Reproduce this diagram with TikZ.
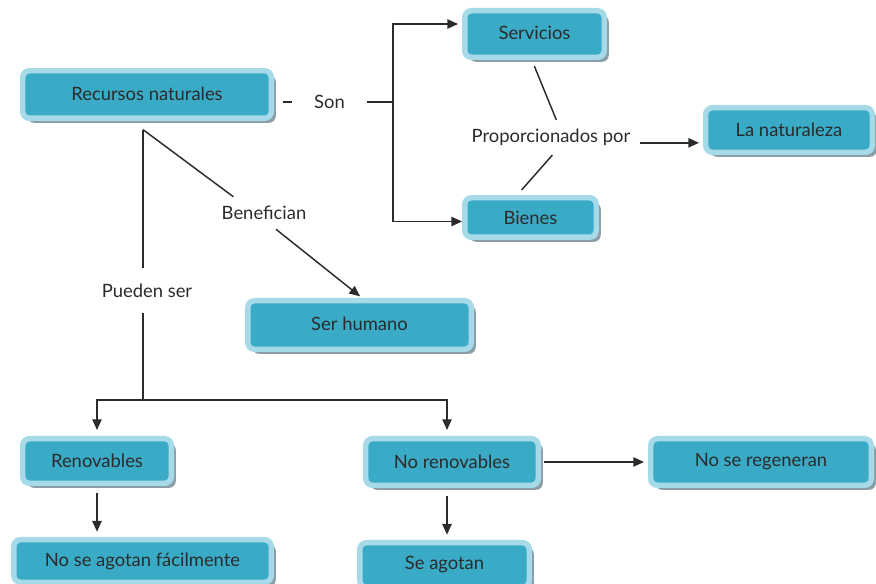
\documentclass[tikz,border=0pt]{standalone}
\usepackage{fontspec}
\setmainfont{Lato}
\usepackage{xcolor}
\usepackage{tikz}
\usetikzlibrary{arrows.meta,positioning,shadows}
\tikzset{>={Triangle[length=8pt,width=7pt]}}

\definecolor{boxin}{HTML}{3AABC7}
\definecolor{boxout}{HTML}{A6DAE8}
\definecolor{boxshade}{HTML}{8C9FA6}
\definecolor{inkgray}{HTML}{2B2B2B}

\tikzset{
  concept/.style={draw=boxout, fill=boxin, line width=4.1pt, rounded corners=5pt,
    text=inkgray, font=\fontsize{13.8}{15}\selectfont, inner sep=0pt,
    drop shadow={shadow xshift=3.4pt, shadow yshift=-3.4pt, fill=boxshade, opacity=1}},
  linktext/.style={text=inkgray, font=\fontsize{13.8}{15}\selectfont, inner sep=0pt},
  link/.style={draw=inkgray, line width=1.1pt}
}

\begin{document}
\begin{tikzpicture}[x=0.75pt, y=-0.75pt]
    \useasboundingbox (0,0) rectangle (876,584);

    % concepts
    \node[concept, minimum width=186.4pt, minimum height=35.6pt] (recursos) at (147,94.5) {\raisebox{1.5pt}{Recursos naturales}};
    \node[concept, minimum width=104.6pt, minimum height=34.9pt] (servicios) at (534.5,34) {\raisebox{1.5pt}{Servicios}};
    \node[concept, minimum width=98.6pt, minimum height=29.6pt] (bienes) at (530.5,217.5) {Bienes};
    \node[concept, minimum width=124.9pt, minimum height=33.4pt] (naturaleza) at (789,130) {\raisebox{1pt}{La naturaleza}};
    \node[concept, minimum width=167.6pt, minimum height=36.4pt] (humano) at (359.5,325) {\raisebox{1.5pt}{Ser humano}};
    \node[concept, minimum width=111.4pt, minimum height=33.4pt] (renovables) at (97,461) {Renovables};
    \node[concept, minimum width=129.4pt, minimum height=34.9pt] (norenov) at (452,462) {\raisebox{1pt}{No renovables}};
    \node[concept, minimum width=165.4pt, minimum height=34.9pt] (regeneran) at (761,462) {\raisebox{1pt}{No se regeneran}};
    \node[concept, minimum width=193.1pt, minimum height=31.9pt] (noagotan) at (142.5,561) {\raisebox{1pt}{No se agotan fácilmente}};
    \node[concept, minimum width=127.1pt, minimum height=33.4pt] (seagotan) at (444.5,565) {Se agotan};

    % linking words
    \node[linktext, minimum width=56pt] (son) at (329.5,102) {Son};
    \node[linktext, minimum height=26pt, inner xsep=7pt] (prop) at (551,137.5) {Proporcionados por};
    \node[linktext, minimum height=24pt] (benef) at (264,213) {Benefician};
    \node[linktext, minimum height=34pt] (pueden) at (147,290.5) {Pueden ser};

    \coordinate (split) at (393,102);
    \coordinate (root) at ([xshift=-3pt, yshift=-6.5pt]recursos.south);
    \coordinate (fork) at (143,400);

    % Son
    \draw[link, shorten <=7pt] (recursos.east |- son.west) -- (son.west);
    \draw[link] (son.east) -- (split);
    \draw[link, ->, shorten >=3pt] (split) |- ([yshift=7.5pt]servicios.west);
    \draw[link, ->] (split) |- ([yshift=-3pt]bienes.west);

    % Proporcionados por
    \draw[link, shorten <=5pt] ([xshift=-2pt]servicios.south) -- ([xshift=4pt]prop.north);
    \draw[link, shorten >=5pt] ([xshift=1pt]prop.south) -- ([xshift=-10pt]bienes.north);
    \draw[link, ->, shorten >=3pt] ([yshift=-4pt]prop.east) -- ([yshift=-4pt]prop.east -| naturaleza.west);

    % Benefician
    \draw[link] (root) -- ([xshift=-23pt]benef.north);
    \draw[link, ->, shorten >=2pt] ([xshift=9pt]benef.south) -- ([xshift=2pt]humano.north);

    % Pueden ser
    \draw[link] (root) -- (root |- pueden.north);
    \draw[link] (root |- pueden.south) -- (fork);
    \draw[link, ->, shorten >=4.5pt] (fork) -| (renovables.north);
    \draw[link, ->, shorten >=4.5pt] (fork) -| ([xshift=-3.75pt]norenov.north);

    % below
    \draw[link, ->, shorten <=5pt, shorten >=4pt] (renovables.south) -- (renovables.south |- noagotan.north);
    \draw[link, ->, shorten <=6pt, shorten >=4pt] ([xshift=-3.75pt]norenov.south) -- ([xshift=-3.75pt]norenov.south |- seagotan.north);
    \draw[link, ->, shorten <=2pt, shorten >=3pt] (norenov.east) -- (regeneran.west);
\end{tikzpicture}
\end{document}
